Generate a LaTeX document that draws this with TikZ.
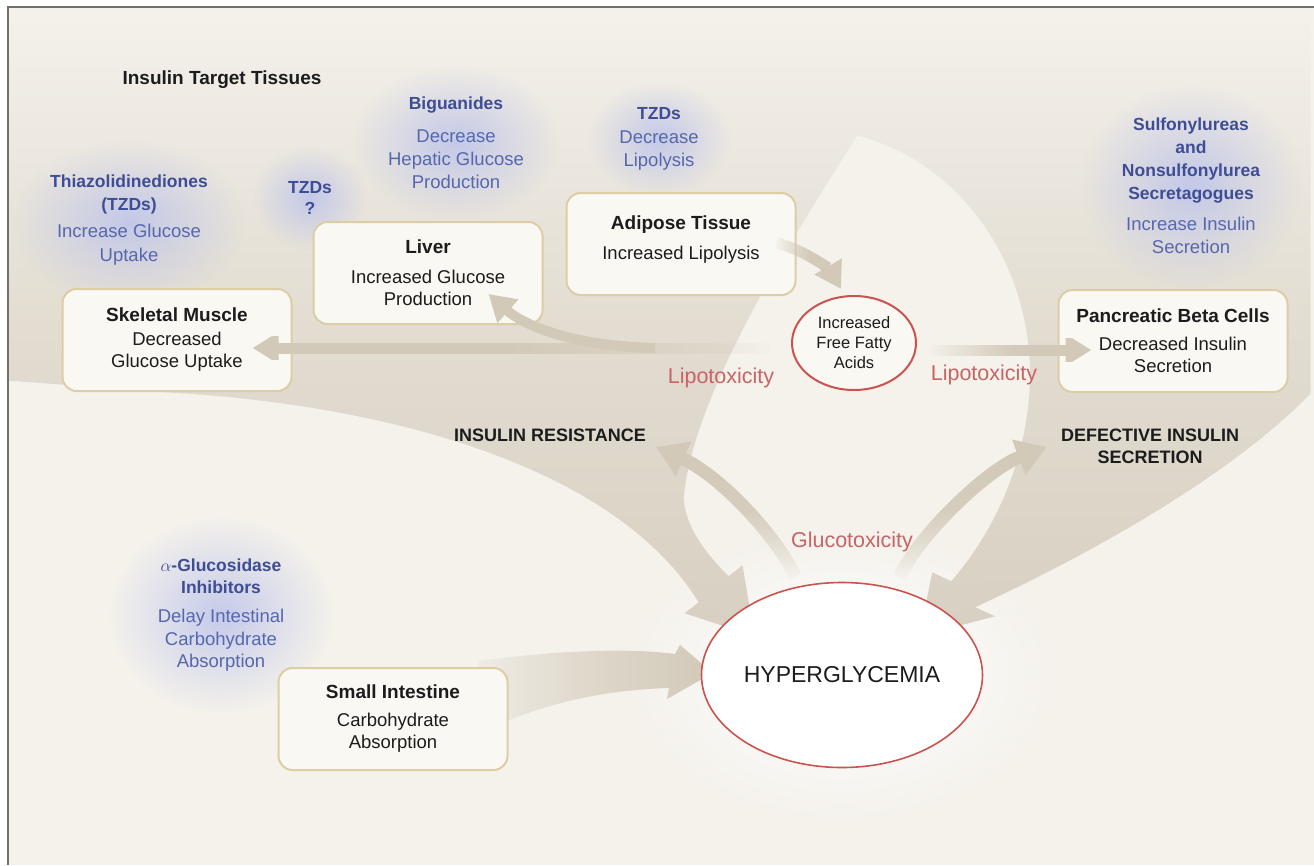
\documentclass[tikz,border=0pt]{standalone}
\usepackage{fontspec}
\setmainfont{Liberation Sans}
\usetikzlibrary{arrows.meta,fadings,shapes.geometric,calc}
\definecolor{bgc}{HTML}{F5F2EC}
\definecolor{regc}{HTML}{D8D0C2}
\definecolor{arrc}{HTML}{D2C9B8}
\definecolor{boxd}{HTML}{DDCDA6}
\definecolor{boxf}{HTML}{FAF8F2}
\definecolor{blueT}{HTML}{5667AD}
\definecolor{blueB}{HTML}{3F4D95}
\definecolor{glowb}{HTML}{BCC4EA}
\definecolor{redT}{HTML}{C86366}
\definecolor{redL}{HTML}{C9534E}
\definecolor{txtk}{HTML}{1C1C1C}
\definecolor{framec}{HTML}{707070}
\newcommand\myfs[2]{\fontsize{#1}{#2}\selectfont}
\newcommand\bbf{\color{blueB}\bfseries\fontsize{17.5}{23}\selectfont}
\newcommand\kbf{\bfseries\fontsize{19}{22}\selectfont}
\tikzfading[name=regfade, top color=transparent!100, bottom color=transparent!0, middle color=transparent!38]
\tikzfading[name=glowfade, inner color=transparent!15, outer color=transparent!100]
\tikzfading[name=whglow, inner color=transparent!0, outer color=transparent!100]
\tikzfading[name=tailright, left color=transparent!0, right color=transparent!100, middle color=transparent!5]
\tikzfading[name=tailleft, left color=transparent!100, right color=transparent!0, middle color=transparent!5]
\tikzfading[name=tailbottom, top color=transparent!0, bottom color=transparent!100, middle color=transparent!10]
\tikzfading[name=swfade, left color=transparent!85, right color=transparent!0, middle color=transparent!35]
\pgfdeclarelayer{back}
\pgfdeclarelayer{mid}
\pgfsetlayers{back,mid,main}
\begin{document}
\begin{tikzpicture}[x=1pt,y=-1pt,
  box/.style={draw=boxd, line width=2pt, fill=boxf, rounded corners=14pt,
    minimum width=229pt, minimum height=102pt, align=center, text=txtk,
    font=\myfs{18.5}{22}, inner sep=0pt},
  blk/.style={align=center, text=blueT, font=\myfs{18.5}{23}, inner sep=0pt},
  lab/.style={inner sep=0pt, text=txtk},
  conn/.style={draw=arrc, line width=11pt, -{Triangle[width=30pt,length=26pt]}},
  gconn/.style={draw=arrc, line width=13pt, -{Triangle[width=36pt,length=30pt]}},
  bglow/.style={fill=glowb, path fading=glowfade}]
\useasboundingbox (0,0) rectangle (1314,865);

% ---------- background layer ----------
\begin{pgfonlayer}{back}
\fill[white] (0,0) rectangle (1314,865);
\fill[bgc] (8,7) rectangle (1314,865);
\fill[white, path fading=whglow] (842,675) ellipse (215 and 150);
\fill[regc, path fading=regfade] (8,7) -- (1314,7) -- (1314,393)
  .. controls (1230,480) and (1080,560) .. (978,607)
  -- (998,616) -- (922,636) -- (935,572) -- (954,581)
  .. controls (990,540) and (1030,470) .. (1033,380)
  .. controls (1035,260) and (960,160) .. (860,135)
  .. controls (780,260) and (695,400) .. (686,498)
  .. controls (688,525) and (705,550) .. (731,576)
  -- (745,565) -- (757,636) -- (687,613) -- (701,602)
  .. controls (620,470) and (400,405) .. (170,392)
  -- (8,380) -- cycle;
\fill[bglow] (129,222) ellipse (118 and 82);
\fill[bglow] (310,198) ellipse (58 and 52);
\fill[bglow] (456,143) ellipse (105 and 78);
\fill[bglow] (659,139) ellipse (72 and 58);
\fill[bglow] (1191,186) ellipse (112 and 102);
\fill[bglow] (221,615) ellipse (112 and 98);
\draw[framec, line width=1.3pt] (8,865) -- (8,7) -- (1314,7);
\end{pgfonlayer}

% ---------- nodes ----------
\node[lab, font=\bfseries\myfs{19}{23}] (title) at (222,80) {Insulin Target Tissues};

\node[blk, font=\myfs{18.5}{23.5}] (thz) at (129,220)
  {{\bbf Thiazolidinediones}\\{\bbf (TZDs)}\\[3.5pt]Increase Glucose\\Uptake};
\node[blk, font=\myfs{18.5}{21.5}] (tzq) at (310,198) {{\bbf TZDs}\\{\bbf ?}};
\node[blk, font=\myfs{18.5}{23}] (bigu) at (456,143)
  {{\bbf Biguanides}\\[10pt]Decrease\\Hepatic Glucose\\Production};
\node[blk, font=\myfs{18.5}{23.5}] (tzdb) at (659,139)
  {{\bbf TZDs}\\Decrease\\Lipolysis};
\node[blk, font=\myfs{18.5}{23}] (sulf) at (1191,186)
  {{\bbf Sulfonylureas}\\{\bbf and}\\{\bbf Nonsulfonylurea}\\{\bbf Secretagogues}\\[8pt]Increase Insulin\\Secretion};
\node[blk, font=\myfs{18.5}{22.5}] (aglu) at (221,615)
  {{\bbf $\alpha$-Glucosidase}\\{\bbf Inhibitors}\\[6.5pt]Delay Intestinal\\Carbohydrate\\Absorption};

\node[box] (skm) at (177,340) {{\kbf Skeletal Muscle}\\[2pt]Decreased\\Glucose Uptake};
\node[box] (liver) at (428,273) {{\kbf Liver}\\[8pt]Increased Glucose\\Production};
\node[box] (adip) at (681,244) {{\kbf Adipose Tissue}\\[8pt]Increased Lipolysis\\[-10pt]\mbox{}};
\node[box] (panc) at (1173,341) {{\kbf Pancreatic Beta Cells}\\[6pt]Decreased Insulin\\Secretion};
\node[box] (sint) at (393,719) {{\kbf Small Intestine}\\[6pt]Carbohydrate\\Absorption};

\node[ellipse, draw=redL, line width=2pt, fill=boxf, minimum width=124pt,
  minimum height=94pt, inner sep=0pt, align=center, font=\myfs{16.5}{20}, text=txtk]
  (ffa) at (854,343) {Increased\\Free Fatty\\Acids};
\node[ellipse, draw=redL, line width=1.6pt, fill=white, minimum width=281pt,
  minimum height=185pt, inner xsep=-8pt, inner ysep=0pt, font=\myfs{23}{27}, text=txtk]
  (hyper) at (842,675) {HYPERGLYCEMIA};

\node[lab, text=redT, font=\myfs{21.5}{25}] (lipoL) at (721,378) {Lipotoxicity};
\node[lab, text=redT, font=\myfs{21.5}{25}] (lipoR) at (984,375) {Lipotoxicity};
\node[lab, text=redT, font=\myfs{21.5}{25}] (gluco) at (852,542) {Glucotoxicity};
\node[lab, font=\bfseries\myfs{18}{22}] (ires) at (550,435) {INSULIN RESISTANCE};
\node[lab, align=center, font=\bfseries\myfs{18}{22}] (dis) at (1150,446) {DEFECTIVE INSULIN\\SECRETION};

% ---------- named ends ----------
\coordinate (skmtip) at ($(skm.east)+(-40,8)$);
\coordinate (ffaW) at ($(ffa.west)+(-20,5)$);
\coordinate (branch) at (655,348);
\coordinate (livtip) at ($(liver.south east)+(-55,-31)$);
\coordinate (adipE) at ($(adip.east)+(-20,-1)$);
\coordinate (ffatip) at ($(ffa.north)+(-13,-6)$);
\coordinate (ffaE) at ($(ffa.east)+(14,7)$);
\coordinate (panctip) at ($(panc.west)+(34,9)$);
\coordinate (hypL) at ($(hyper.north)+(-47,-5)$);
\coordinate (hypR) at ($(hyper.north)+(58,-5)$);
\coordinate (irtip) at ($(ires.east)+(10,12)$);
\coordinate (distip) at ($(dis.west)+(-14,1)$);
\coordinate (sitip) at ($(hyper.west)+(12,-2)$);

% ---------- small intestine swoosh ----------
\begin{pgfonlayer}{mid}
\fill[arrc, path fading=swfade] ($(sint.north east)+(-30,-6)$)
  .. controls (560,650) and (630,648) .. (675,654) -- (680,645) -- (sitip)
  -- (667,699) -- (669,688)
  .. controls (600,690) and (540,705) .. ($(sint.east)+(-20,10)$) -- cycle;
\end{pgfonlayer}

% ---------- connectors ----------
\draw[conn, path fading=tailright] (ffaW) -- (skmtip);
\draw[conn, line width=10pt] (branch) .. controls (565,346) and (520,322) .. (livtip);
\draw[conn, path fading=tailleft] (adipE) .. controls (805,250) and (830,270) .. (ffatip);
\draw[conn, path fading=tailleft] (ffaE) -- (panctip);
\draw[gconn, path fading=tailbottom] (hypL) .. controls (780,540) and (720,475) .. (irtip);
\draw[gconn, path fading=tailbottom] (hypR) .. controls (915,540) and (985,470) .. (distip);
\end{tikzpicture}
\end{document}
